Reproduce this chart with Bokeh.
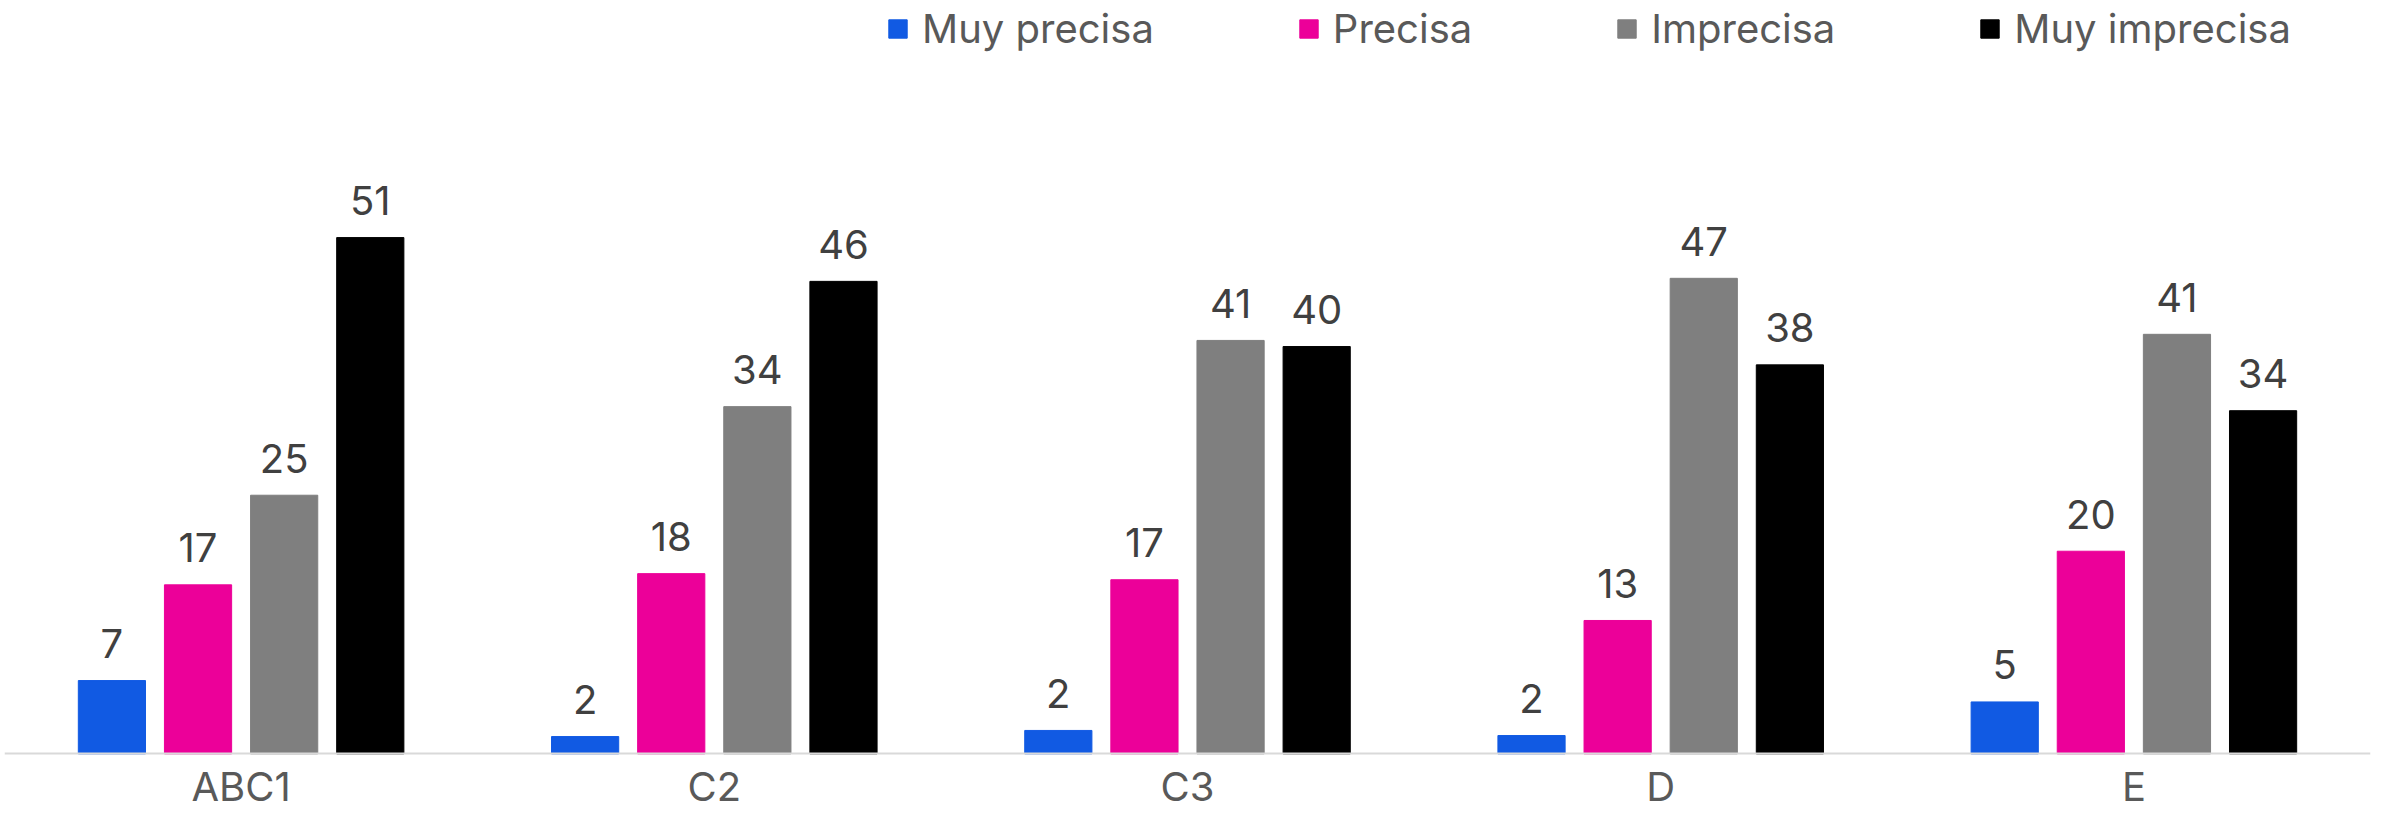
from bokeh.plotting import figure
from bokeh.models import ColumnDataSource, FactorRange, Range1d
from bokeh.transform import dodge
from bokeh.core.properties import value
from bokeh.embed import file_html
from bokeh.resources import INLINE

categories = ["ABC1", "C2", "C3", "D", "E"]
series = ["Muy precisa", "Precisa", "Imprecisa", "Muy imprecisa"]
muy_precisa = [7.2, 1.7, 2.3, 1.8, 5.1]
precisa = [16.6, 17.7, 17.1, 13.1, 19.9]
imprecisa = [25.4, 34.1, 40.6, 46.7, 41.2]
muy_imprecisa = [50.7, 46.4, 40.0, 38.2, 33.7]
labels_muy_precisa = ["7", "2", "2", "2", "5"]
labels_precisa = ["17", "18", "17", "13", "20"]
labels_imprecisa = ["25", "34", "41", "47", "41"]
labels_muy_imprecisa = ["51", "46", "40", "38", "34"]

colors = ["#115AE3", "#EC0099", "#7F7F7F", "#000000"]
offsets = [-0.273, -0.091, 0.091, 0.273]
bar_w = 0.142
FONT = "Inter"

source = ColumnDataSource(data=dict(
    cat=categories,
    s0=muy_precisa, s1=precisa, s2=imprecisa, s3=muy_imprecisa,
    l0=labels_muy_precisa, l1=labels_precisa, l2=labels_imprecisa, l3=labels_muy_imprecisa,
))

px_per_unit = 10.07
frame_h = 801
axis_px = 745
p = figure(
    x_range=FactorRange(*categories, range_padding=0),
    y_range=Range1d(-(frame_h - axis_px) / px_per_unit, axis_px / px_per_unit),
    width=2374, height=810,
    output_backend="svg", toolbar_location=None,
    min_border_left=4, min_border_right=4, min_border_top=0, min_border_bottom=0,
)

for i, name in enumerate(series):
    xd = dodge("cat", offsets[i], range=p.x_range)
    p.vbar(x=xd, top="s%d" % i, bottom=0, width=bar_w, source=source,
           fill_color=colors[i], line_color=colors[i], line_width=1,
           legend_label=name)
    p.text(x=xd, y="s%d" % i, text="l%d" % i, source=source,
           y_offset=-37, text_align="center", text_baseline="alphabetic",
           text_font=value(FONT), text_font_size="40px", text_color="#404040")

p.xgrid.visible = False
p.ygrid.visible = False
p.outline_line_color = None
p.yaxis.visible = False

ax = p.xaxis[0]
ax.fixed_location = 0
ax.axis_line_color = "#D9D9D9"
ax.axis_line_width = 2
ax.major_tick_line_color = None
ax.minor_tick_line_color = None
ax.major_tick_out = 0
ax.major_tick_in = 0
ax.minor_tick_out = 0
ax.minor_tick_in = 0
ax.major_label_standoff = 8
ax.major_label_text_font = FONT
ax.major_label_text_font_size = "40px"
ax.major_label_text_color = "#595959"

lg = p.legend[0]
lg.orientation = "horizontal"
lg.location = (882, 757)
lg.glyph_width = 23
lg.glyph_height = 23
lg.label_standoff = 13
lg.spacing = 143
lg.padding = 0
lg.margin = 0
lg.border_line_color = None
lg.background_fill_alpha = 0
lg.label_text_font = FONT
lg.label_text_font_size = "40px"
lg.label_text_color = "#595959"

open("out.html", "w").write(file_html(p, INLINE))
